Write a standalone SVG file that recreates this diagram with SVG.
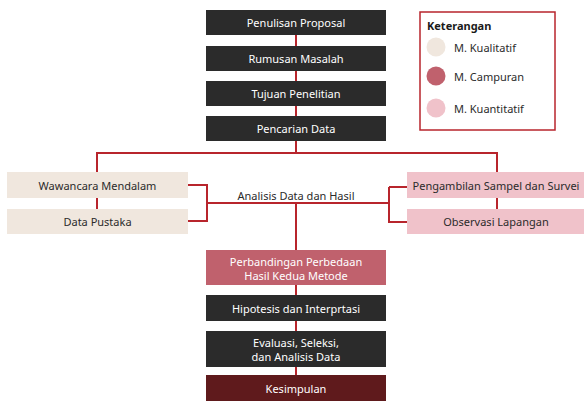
<svg xmlns="http://www.w3.org/2000/svg" width="584" height="402" viewBox="0 0 584 402">
<style>
.dark{fill:#2b2b2b}
.kual{fill:#f0e7de}
.camp{fill:#c0616d}
.kuan{fill:#f0c2ca}
.kes{fill:#5f1a1c}
.t{font-family:"Noto Sans","Open Sans",sans-serif;font-size:11px;text-anchor:middle;dominant-baseline:central}
.w{fill:#ffffff}
.k{fill:#2b2b2b}
.ln{stroke:#b8252c;stroke-width:2;fill:none}
</style>
<rect width="584" height="402" fill="#ffffff"/>
<g id="connectors">
<path class="ln" d="M296 35V153M296 203V250M296 285V375"/>
<path class="ln" d="M97 172V153H497V172M97 198V209M497 198V209"/>
<path class="ln" d="M188 185H207V221H188M207 203H389M389 187H407M389 187V222H407"/>
</g>
<g id="n1"><rect class="dark" x="206" y="10" width="180" height="25"/><text class="t w" x="296" y="22.5">Penulisan Proposal</text></g>
<g id="n2"><rect class="dark" x="206" y="46" width="180" height="25"/><text class="t w" x="296" y="58.5">Rumusan Masalah</text></g>
<g id="n3"><rect class="dark" x="206" y="81" width="180" height="25"/><text class="t w" x="296" y="93.5">Tujuan Penelitian</text></g>
<g id="n4"><rect class="dark" x="206" y="116" width="180" height="25"/><text class="t w" x="296" y="128.5">Pencarian Data</text></g>
<g id="n5"><rect class="kual" x="7" y="172" width="181" height="26"/><text class="t k" x="97.5" y="185">Wawancara Mendalam</text></g>
<g id="n6"><rect class="kual" x="7" y="209" width="181" height="25"/><text class="t k" x="97.5" y="221.5">Data Pustaka</text></g>
<g id="n7"><rect class="kuan" x="407" y="172" width="177" height="26"/><text class="t k" x="496" y="185">Pengambilan Sampel dan Survei</text></g>
<g id="n8"><rect class="kuan" x="407" y="209" width="177" height="25"/><text class="t k" x="496" y="221.5">Observasi Lapangan</text></g>
<g id="lbl"><text class="t k" x="296" y="195">Analisis Data dan Hasil</text></g>
<g id="n9"><rect class="camp" x="206" y="250" width="180" height="35"/><text class="t w" x="296" y="261">Perbandingan Perbedaan</text><text class="t w" x="296" y="275">Hasil Kedua Metode</text></g>
<g id="n10"><rect class="dark" x="206" y="295" width="180" height="26"/><text class="t w" x="296" y="308">Hipotesis dan Interprtasi</text></g>
<g id="n11"><rect class="dark" x="206" y="331" width="180" height="36"/><text class="t w" x="296" y="342">Evaluasi, Seleksi,</text><text class="t w" x="296" y="356">dan Analisis Data</text></g>
<g id="n12"><rect class="kes" x="206" y="375" width="180" height="26"/><text class="t w" x="296" y="388">Kesimpulan</text></g>
<g id="legend">
<rect x="420" y="12" width="135" height="118" fill="#ffffff" stroke="#b8252c" stroke-width="1.5"/>
<text x="427" y="25" font-family="'Noto Sans','Open Sans',sans-serif" font-size="11" font-weight="bold" fill="#1a1a1a" dominant-baseline="central">Keterangan</text>
<circle class="kual" cx="436" cy="47" r="9.5"/>
<circle class="camp" cx="436" cy="76" r="9.5"/>
<circle class="kuan" cx="436" cy="108" r="9.5"/>
<text x="454" y="47" font-family="'Noto Sans','Open Sans',sans-serif" font-size="11" fill="#2b2b2b" dominant-baseline="central">M. Kualitatif</text>
<text x="454" y="76" font-family="'Noto Sans','Open Sans',sans-serif" font-size="11" fill="#2b2b2b" dominant-baseline="central">M. Campuran</text>
<text x="454" y="108" font-family="'Noto Sans','Open Sans',sans-serif" font-size="11" fill="#2b2b2b" dominant-baseline="central">M. Kuantitatif</text>
</g>
</svg>
